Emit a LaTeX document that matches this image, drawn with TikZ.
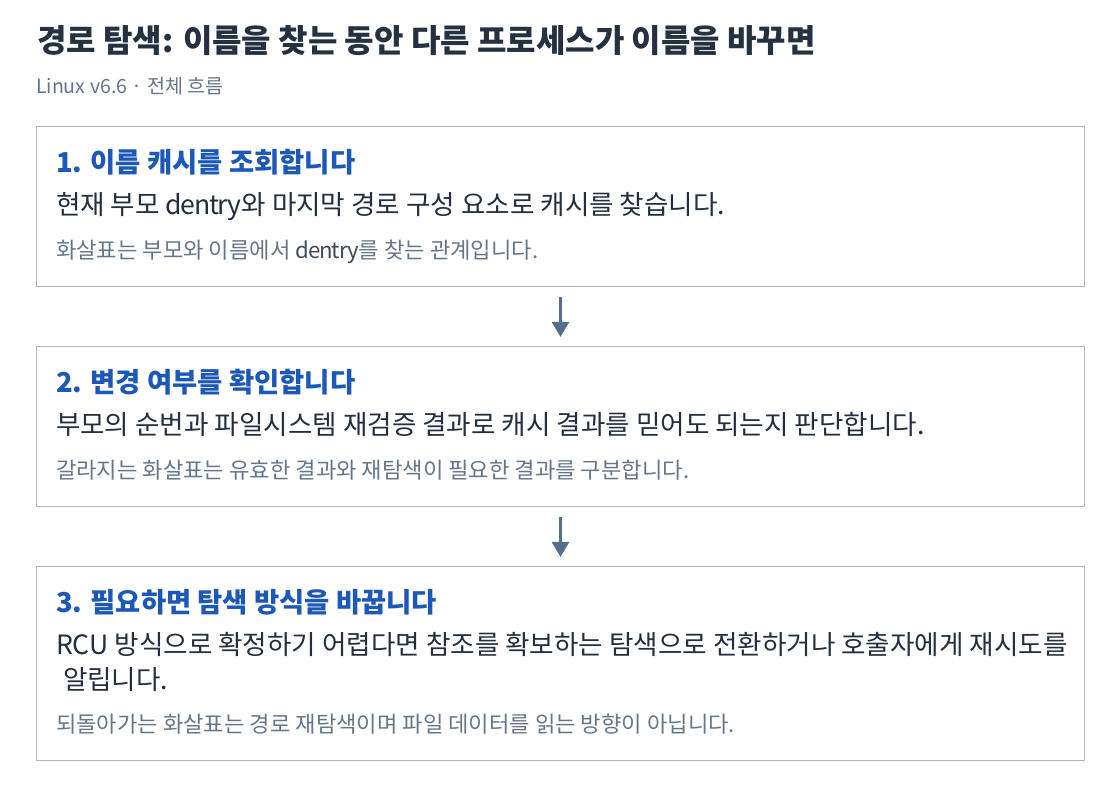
\documentclass[tikz,border=0pt]{standalone}
\usepackage{fontspec}
\setmainfont{Noto Sans CJK KR}
\usetikzlibrary{arrows.meta}
\definecolor{titlec}{HTML}{253140}
\definecolor{headc}{HTML}{1C58B8}
\definecolor{bodyc}{HTML}{232F3E}
\definecolor{smallc}{HTML}{66768A}
\definecolor{darksmall}{HTML}{3E4C5E}
\definecolor{borderc}{HTML}{A9B5C4}
\definecolor{arrowc}{HTML}{546E8C}
\newcommand{\tightword}[1]{{\addfontfeatures{LetterSpace=-5}#1}}
\tikzset{
  stepbox/.style={draw=borderc, line width=1.2pt, fill=white, rectangle, inner sep=0pt, minimum width=1048pt},
  txt/.style={anchor=base west, inner sep=0pt, outer sep=0pt},
  titletxt/.style={txt, text=titlec, font=\fontsize{32}{38}\selectfont\bfseries},
  subtxt/.style={txt, text=smallc, font=\fontsize{19.6}{24}\selectfont},
  headtxt/.style={txt, text=headc, font=\fontsize{27.4}{32}\selectfont\bfseries},
  bodytxt/.style={txt, text=bodyc, font=\fontsize{26.6}{35}\selectfont},
  smalltxt/.style={txt, text=smallc, font=\fontsize{22.2}{26}\selectfont},
  flow/.style={draw=arrowc, line width=3pt, -{Triangle[width=17pt,length=15pt]}, shorten <=10pt, shorten >=9pt}
}
\begin{document}
\begin{tikzpicture}[x=1pt,y=-1pt]
\useasboundingbox (0,0) rectangle (1120,788);
\fill[white] (0,0) rectangle (1120,788);
\node[titletxt] (title) at (37,52) {경로 탐색: 이름을 찾는 동안 다른 프로세스가 이름을 바꾸면};
\node[subtxt] (sub) at (36,93) {Linux v6.6 · 전체 흐름};

\node[stepbox, minimum height=160pt] (b1) at (560.5,206.5) {};
\node[stepbox, minimum height=160pt] (b2) at (560.5,426.5) {};
\node[stepbox, minimum height=194pt] (b3) at (560.5,663.5) {};

\node[headtxt] (h1) at (56,172) {1. 이름 캐시를 조회합니다};
\node[bodytxt] (t1) at (56,214) {현재 부모 \tightword{dentry}와 마지막 경로 구성 요소로 캐시를 찾습니다.};
\node[smalltxt] (s1) at (56,258) {화살표는 부모와 이름에서 {\color{darksmall}\tightword{dentry}}를 찾는 관계입니다.};

\node[headtxt] (h2) at (56,392) {2. 변경 여부를 확인합니다};
\node[bodytxt] (t2) at (56,434) {부모의 순번과 파일시스템 재검증 결과로 캐시 결과를 믿어도 되는지 판단합니다.};
\node[smalltxt] (s2) at (56,478) {갈라지는 화살표는 유효한 결과와 재탐색이 필요한 결과를 구분합니다.};

\node[headtxt] (h3) at (56,612) {3. 필요하면 탐색 방식을 바꿉니다};
\node[bodytxt] (t3) at (56,654) {RCU 방식으로 확정하기 어렵다면 참조를 확보하는 탐색으로 전환하거나 호출자에게 재시도를};
\node[bodytxt] (t3b) at (63,689) {알립니다.};
\node[smalltxt] (s3) at (56,732) {되돌아가는 화살표는 경로 재탐색이며 파일 데이터를 읽는 방향이 아닙니다.};

\draw[flow] (b1.south) -- (b2.north);
\draw[flow] (b2.south) -- (b3.north);
\end{tikzpicture}
\end{document}
